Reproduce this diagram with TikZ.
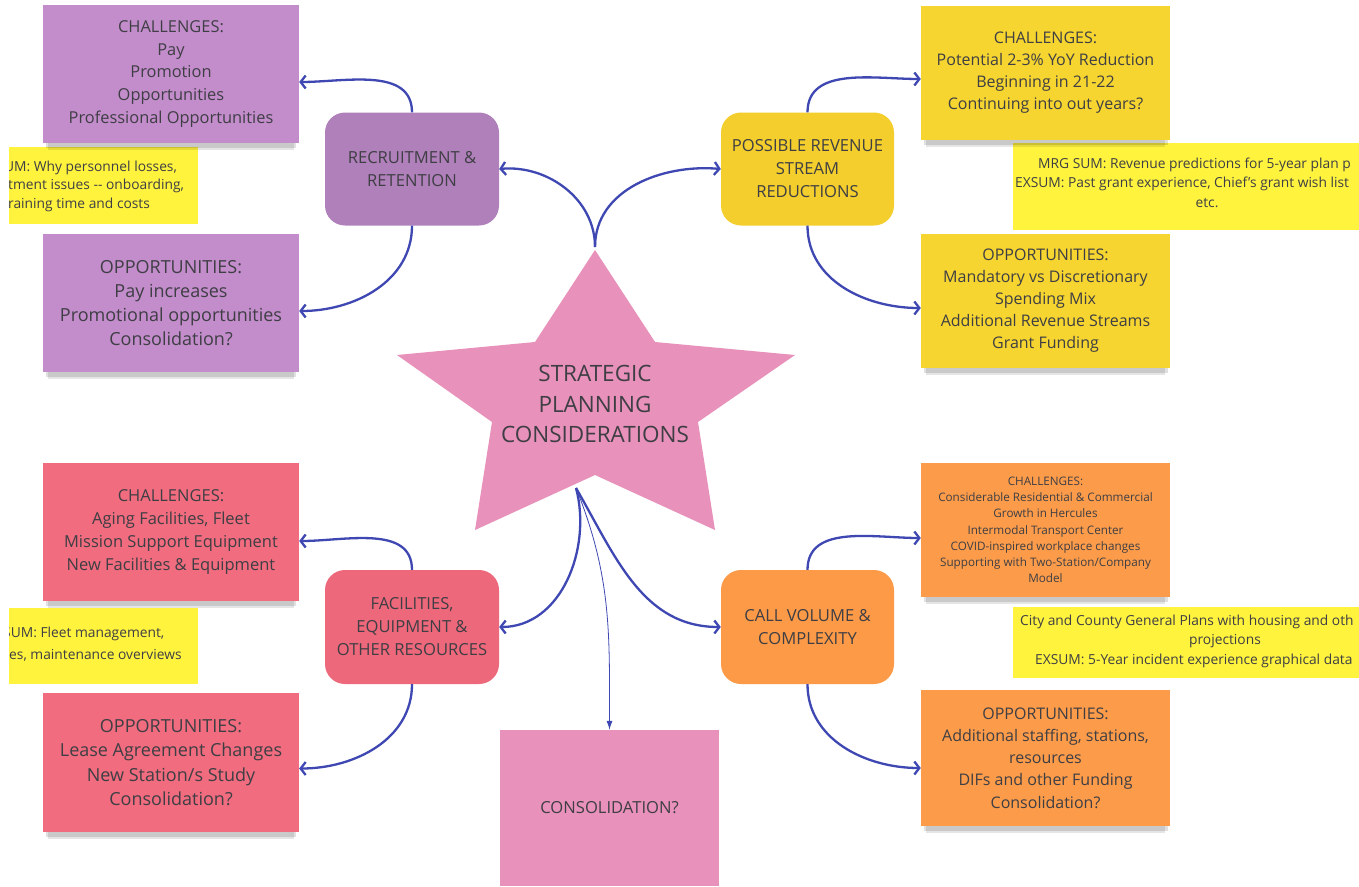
\documentclass[tikz,border=0pt]{standalone}
\usepackage{fontspec}
\setmainfont{Open Sans}
\usetikzlibrary{positioning,arrows.meta,shadows}
\definecolor{ink}{HTML}{3E3E44}
\definecolor{notepurple}{HTML}{C38CCB}
\definecolor{topicpurple}{HTML}{B080BA}
\definecolor{noteyellow}{HTML}{F6D530}
\definecolor{topicyellow}{HTML}{F3CE2C}
\definecolor{memoyellow}{HTML}{FFF33E}
\definecolor{notered}{HTML}{F06C7E}
\definecolor{topicred}{HTML}{EE687B}
\definecolor{noteorange}{HTML}{FC9C4A}
\definecolor{topicorange}{HTML}{FD9A47}
\definecolor{starpink}{HTML}{E891BA}
\definecolor{linkblue}{HTML}{3F48B2}
\tikzset{>={Straight Barb[length=5pt,width=13pt]}}
\tikzset{
  note/.style={minimum width=256pt,minimum height=138pt,inner sep=0pt,align=center,text=ink,
    general shadow={fill=black,opacity=.10,shadow yshift=-10pt,shadow scale=.96},
    general shadow={fill=black,opacity=.12,shadow yshift=-6pt,shadow scale=.98}},
  topic/.style={rounded corners=20pt,minimum width=174pt,minimum height=113pt,inner sep=0pt,
    align=center,text=ink,font=\fontsize{16.6}{23}\selectfont},
  memotext/.style={inner sep=0pt,text=ink,font=\fontsize{13.8}{19}\selectfont},
  link/.style={->,draw=linkblue,line width=2.3pt},
  thinlink/.style={-{Latex[length=9pt,width=6pt]},draw=linkblue,line width=.8pt}
}

\begin{document}
\begin{tikzpicture}[x=1pt,y=-1pt]
\useasboundingbox[fill=white] (0,0) rectangle (1359,886);
% yellow memos, cut by the edge of the board
\begin{scope}
\clip (9,0) rectangle (1359,886);
\fill[memoyellow] (9,147) rectangle (198,224);
\node[memotext,anchor=west] (memoa1) at (4,168) {UM: Why personnel losses,};
\node[memotext,anchor=west] (memoa2) at (8,186) {tment issues {-}{-} onboarding,};
\node[memotext,anchor=west] (memoa3) at (8,205) {raining time and costs};
\fill[memoyellow] (9,608) rectangle (198,684);
\node[memotext,anchor=west] (memob1) at (3,634) {SUM: Fleet management,};
\node[memotext,anchor=west] (memob2) at (9,655) {es, maintenance overviews};
\fill[memoyellow] (1013,143) rectangle (1359,230);
\node[memotext,anchor=west] (memoc1) at (1038,165) {MRG SUM: Revenue predictions for 5-year plan p};
\node[memotext,anchor=west] (memoc2) at (1015,184) {EXSUM: Past grant experience, Chief's grant wish list};
\node[memotext] (memoc3) at (1207,203) {etc.};
\fill[memoyellow] (1013,607) rectangle (1359,678);
\node[memotext,anchor=west] (memod1) at (1020,622) {City and County General Plans with housing and oth};
\node[memotext] (memod2) at (1225,641) {projections};
\node[memotext,anchor=west] (memod3) at (1035,661) {EXSUM: 5-Year incident experience graphical data};
\end{scope}

\node[note,fill=notepurple,font=\fontsize{16.4}{22.7}\selectfont] (pchal) at (171,74)
  {CHALLENGES:\\Pay\\Promotion\\Opportunities\\Professional Opportunities};
\node[note,fill=notepurple,font=\fontsize{18}{24}\selectfont] (popp) at (171,303)
  {OPPORTUNITIES:\\Pay increases\\Promotional opportunities\\Consolidation?};
\node[note,fill=notered,font=\fontsize{16.5}{23}\selectfont] (rchal) at (171,532)
  {CHALLENGES:\\Aging Facilities, Fleet\\Mission Support Equipment\\New Facilities \& Equipment};
\node[note,fill=notered,minimum height=139pt,font=\fontsize{18}{24.3}\selectfont] (ropp) at (171,762.5)
  {OPPORTUNITIES:\\Lease Agreement Changes\\New Station/s Study\\Consolidation?};
\node[note,fill=noteyellow,minimum width=249pt,minimum height=134pt,font=\fontsize{16}{22}\selectfont] (ychal) at (1045.5,73)
  {CHALLENGES:\\Potential 2-3\% YoY Reduction\\Beginning in 21-22\\Continuing into out years?};
\node[note,fill=noteyellow,minimum width=249pt,minimum height=134pt,font=\fontsize{16}{22}\selectfont] (yopp) at (1045.5,301)
  {OPPORTUNITIES:\\Mandatory vs Discretionary\\Spending Mix\\Additional Revenue Streams\\Grant Funding};
\node[note,fill=noteorange,minimum width=249pt,minimum height=134pt,font=\fontsize{11.7}{16.2}\selectfont] (ochal) at (1045.5,530)
  {CHALLENGES:\\Considerable Residential \& Commercial\\Growth in Hercules\\Intermodal Transport Center\\
   COVID-inspired workplace changes\\Supporting with Two-Station/Company\\Model};
\node[note,fill=noteorange,minimum width=249pt,minimum height=136pt,font=\fontsize{16}{22.3}\selectfont] (oopp) at (1045.5,758)
  {OPPORTUNITIES:\\Additional staffing, stations,\\resources\\DIFs and other Funding\\Consolidation?};

\node[topic,fill=topicpurple] (recruit) at (412,169) {RECRUITMENT \&\\RETENTION};
\node[topic,fill=topicyellow,minimum width=173pt] (revenue) at (807.5,169) {POSSIBLE REVENUE\\STREAM\\REDUCTIONS};
\node[topic,fill=topicred,minimum height=114pt] (facil) at (412,627) {FACILITIES,\\EQUIPMENT \&\\OTHER RESOURCES};
\node[topic,fill=topicorange,minimum width=173pt,minimum height=114pt] (callvol) at (807.5,627) {CALL VOLUME \&\\COMPLEXITY};
\node[fill=starpink,minimum width=219pt,minimum height=156pt,inner sep=0pt,text=ink,
  font=\fontsize{16.6}{22}\selectfont] (consol) at (609.5,808) {CONSOLIDATION?};

\fill[starpink] (595,250) -- (655,342) -- (795,355) -- (698,422) -- (715,530)
  -- (595,475) -- (475,530) -- (492,422) -- (397,355) -- (535,342) -- cycle;
\node[align=center,text=ink,inner sep=0pt,font=\fontsize{22.5}{30.5}\selectfont] (hub) at (595,404)
  {STRATEGIC\\PLANNING\\CONSIDERATIONS};
\coordinate (startop) at (595,247);
\coordinate (starfoot) at (576,488);

\draw[link] (startop) to[out=90,in=5] (recruit.east);
\draw[link] (startop) to[out=90,in=175] (revenue.west);
\draw[link] (starfoot) to[out=-75,in=0] (facil.east);
\draw[link] (starfoot) to[out=-60,in=180] (callvol.west);
\draw[thinlink] (starfoot) to[out=-68,in=90] (consol.north);

\draw[link] (recruit.north) to[out=90,in=0] ([yshift=-8pt]pchal.east);
\draw[link] (recruit.south) to[out=-90,in=0] ([yshift=-8pt]popp.east);
\draw[link] (facil.north) to[out=90,in=0] ([yshift=-9pt]rchal.east);
\draw[link] (facil.south) to[out=-90,in=0] ([yshift=-6pt]ropp.east);
\draw[link] (revenue.north) to[out=90,in=180] ([yshift=-6pt]ychal.west);
\draw[link] (revenue.south) to[out=-90,in=180] ([yshift=-7pt]yopp.west);
\draw[link] (callvol.north) to[out=90,in=180] ([yshift=-8pt]ochal.west);
\draw[link] (callvol.south) to[out=-90,in=180] ([yshift=-10pt]oopp.west);
\end{tikzpicture}
\end{document}
